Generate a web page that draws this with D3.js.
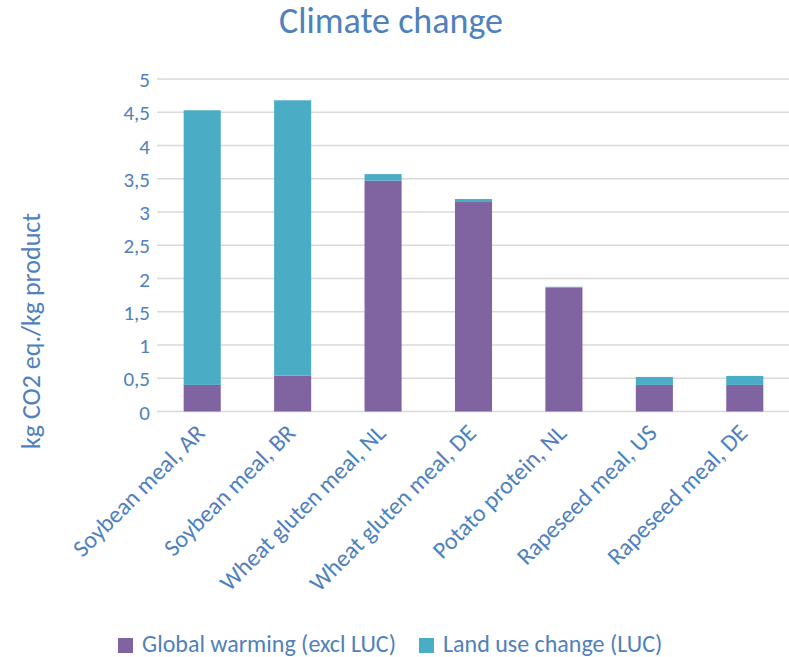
<!DOCTYPE html>
<html>
<head>
<meta charset="utf-8">
<script src="https://cdn.jsdelivr.net/npm/d3@7"></script>
<style>
  html, body { margin: 0; padding: 0; background: #fff; }
  svg text { font-family: Carlito, Calibri, Lato, "Open Sans", sans-serif; fill: #4F81BD; }
</style>
</head>
<body>
<svg id="chart" width="789" height="657"></svg>
<script>
// Climate change footprint per product (kg CO2 eq. per kg product)
const categories = [
  "Soybean meal, AR", "Soybean meal, BR", "Wheat gluten meal, NL",
  "Wheat gluten meal, DE", "Potato protein, NL", "Rapeseed meal, US", "Rapeseed meal, DE"
];
const globalWarming = [0.40, 0.54, 3.47, 3.15, 1.86, 0.40, 0.40];
const landUseChange = [4.13, 4.14, 0.10, 0.045, 0.015, 0.12, 0.135];
const seriesNames = ["Global warming (excl LUC)", "Land use change (LUC)"];
const seriesColors = ["#8064A2", "#4BACC6"];
const yTicks = [0, 0.5, 1, 1.5, 2, 2.5, 3, 3.5, 4, 4.5, 5];
const yTickLabels = ["0", "0,5", "1", "1,5", "2", "2,5", "3", "3,5", "4", "4,5", "5"];

const svg = d3.select("#chart");
const plot = { left: 157, right: 790, top: 79, bottom: 411.5 };

const x = d3.scaleBand()
  .domain(categories)
  .range([plot.left, plot.right])
  .paddingInner(0.59)
  .paddingOuter(0.295);

const y = d3.scaleLinear()
  .domain([0, 5])
  .range([plot.bottom, plot.top]);

// Title
svg.append("text")
  .attr("x", 391).attr("y", 33)
  .attr("text-anchor", "middle")
  .style("font-size", "36px")
  .text("Climate change");

// Horizontal gridlines
svg.append("g")
  .selectAll("line")
  .data(yTicks)
  .join("line")
  .attr("x1", plot.left).attr("x2", plot.right)
  .attr("y1", d => y(d)).attr("y2", d => y(d))
  .attr("stroke", "#D9D9D9")
  .attr("stroke-width", 1.5);

// Y axis labels
const yAxis = d3.axisLeft(y)
  .tickValues(yTicks)
  .tickFormat((d, i) => yTickLabels[i])
  .tickSize(0)
  .tickPadding(0);
const yg = svg.append("g")
  .attr("transform", `translate(150,0)`)
  .call(yAxis);
yg.select(".domain").remove();
yg.selectAll("text")
  .style("font-size", "21px")
  .attr("dy", "0.36em")
  .attr("fill", "#4F81BD");

// Y axis title
svg.append("text")
  .attr("transform", "translate(40,331) rotate(-90)")
  .attr("text-anchor", "middle")
  .style("font-size", "26px")
  .text("kg CO2 eq./kg product");

// Stacked bars
const rows = categories.map((c, i) => ({ cat: c, gw: globalWarming[i], luc: landUseChange[i] }));
const stack = d3.stack().keys(["gw", "luc"])(rows);

svg.append("g")
  .selectAll("g")
  .data(stack)
  .join("g")
  .attr("fill", (d, i) => seriesColors[i])
  .selectAll("rect")
  .data(d => d)
  .join("rect")
  .attr("x", d => x(d.data.cat))
  .attr("width", x.bandwidth())
  .attr("y", d => y(d[1]))
  .attr("height", d => y(d[0]) - y(d[1]));

// Category labels, rotated
const xg = svg.append("g");
xg.selectAll("text")
  .data(categories)
  .join("text")
  .attr("transform", d => `translate(${x(d) + x.bandwidth() / 2 + 4},${plot.bottom + 23}) rotate(-45)`)
  .attr("text-anchor", "end")
  .style("font-size", "24px")
  .text(d => d);

// Legend
const legend = svg.append("g").attr("transform", "translate(118,645.5)");
const items = [
  { name: seriesNames[0], color: seriesColors[0], x: 0 },
  { name: seriesNames[1], color: seriesColors[1], x: 301 }
];
const li = legend.selectAll("g").data(items).join("g")
  .attr("transform", d => `translate(${d.x},0)`);
li.append("rect")
  .attr("x", 0).attr("y", -7.5)
  .attr("width", 15).attr("height", 15)
  .attr("fill", d => d.color);
li.append("text")
  .attr("x", 24).attr("y", 6.5)
  .style("font-size", "24px")
  .text(d => d.name);
</script>
</body>
</html>
